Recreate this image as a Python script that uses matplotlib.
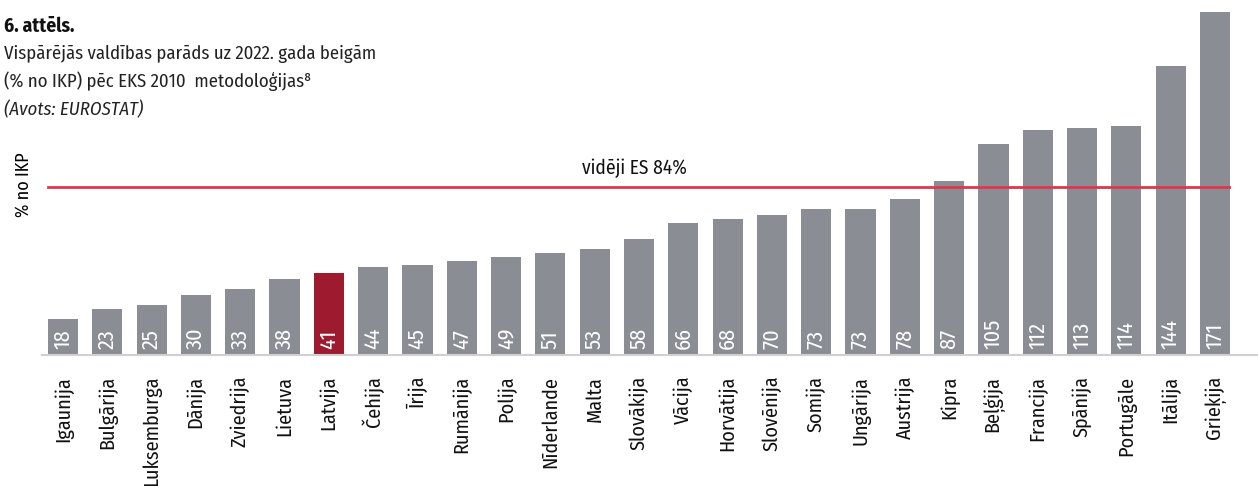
import numpy as np
import matplotlib
matplotlib.use('Agg')
import matplotlib.pyplot as plt
from matplotlib import font_manager as fm

# condensed font like the original (Myriad Condensed); first installed one wins
wanted = ['Fira Sans Condensed', 'PT Sans Narrow', 'Roboto Condensed', 'Archivo Narrow',
          'Encode Sans Condensed', 'Liberation Sans Narrow']
have = set(f.name for f in fm.fontManager.ttflist)
fams = [f for f in wanted if f in have][:1] + ['DejaVu Sans']
plt.rcParams['font.family'] = fams

countries = ['Igaunija', 'Bulgārija', 'Luksemburga', 'Dānija', 'Zviedrija', 'Lietuva',
             'Latvija', 'Čehija', 'Īrija', 'Rumānija', 'Polija', 'Nīderlande', 'Malta',
             'Slovākija', 'Vācija', 'Horvātija', 'Slovēnija', 'Somija', 'Ungārija',
             'Austrija', 'Kipra', 'Beļģija', 'Francija', 'Spānija', 'Portugāle',
             'Itālija', 'Grieķija']
debt = [18, 23, 25, 30, 33, 38, 41, 44, 45, 47, 49, 51, 53, 58, 66, 68, 70, 73, 73,
        78, 87, 105, 112, 113, 114, 144, 171]
eu_avg = 84
highlight = 'Latvija'

gray = '#8b8d95'
red_bar = '#9e1b2f'
red_line = '#e0364d'

fig = plt.figure(figsize=(12.58, 4.86), dpi=100)
ax = fig.add_axes([0.0334, 0.2695, 0.9666, 0.7058])

x = np.arange(len(countries))
colors = [red_bar if c == highlight else gray for c in countries]
ax.bar(x, debt, width=0.68, color=colors, zorder=2)

for xi, v in zip(x, debt):
    ax.text(xi, 3, str(v), rotation=90, ha='center', va='bottom',
            color='white', fontsize=16, zorder=3)

ax.plot([-0.34, len(countries) - 0.68], [eu_avg, eu_avg], color=red_line, lw=2, zorder=4)
ax.text(12.9, eu_avg + 4, 'vidēji ES 84%', ha='center', va='bottom', fontsize=14, color='#111111')

ax.set_xlim(-0.474, 26.97)
ax.set_ylim(0, 171)
ax.set_xticks(x)
ax.set_xticklabels(countries, rotation=90, fontsize=14.5, color='#111111')
ax.tick_params(axis='x', length=0, pad=15)
ax.set_yticks([])
for s in ['top', 'right', 'left']:
    ax.spines[s].set_visible(False)
ax.spines['bottom'].set_color('#d0d0d0')
ax.spines['bottom'].set_linewidth(1.5)

fig.text(0.003, 0.934, '6. attēls.', fontsize=14, fontweight='bold', color='#111111')
fig.text(0.003, 0.878, 'Vispārējās valdības parāds uz 2022. gada beigām', fontsize=13.5, color='#222222')
fig.text(0.003, 0.820, '(% no IKP) pēc EKS 2010  metodoloģijas⁸', fontsize=13.5, color='#222222')
fig.text(0.003, 0.763, '(Avots: EUROSTAT)', fontsize=13.5, style='italic', color='#222222')
fig.text(0.019, 0.62, '% no IKP', rotation=90, ha='center', va='center', fontsize=13, color='#000000')

fig.savefig('out.png', dpi=100)
